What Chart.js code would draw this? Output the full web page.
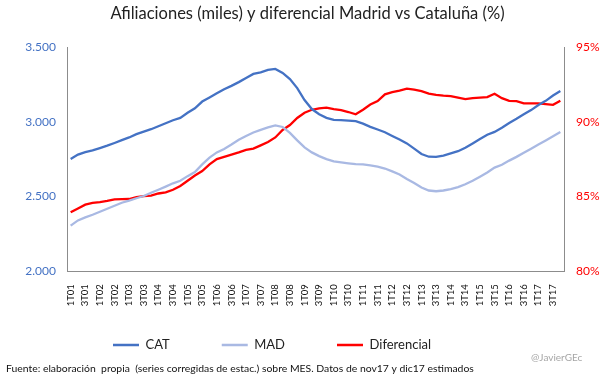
<!DOCTYPE html>
<html>
<head>
<meta charset="utf-8">
<script src="https://cdn.jsdelivr.net/npm/chart.js@4.4.0/dist/chart.umd.min.js"></script>
<style>
  html, body { margin: 0; padding: 0; background: #ffffff; }
  #wrap { width: 609px; height: 378px; }
</style>
</head>
<body>
<div id="wrap"><canvas id="c" width="609" height="378"></canvas></div>
<script>
const categories = [
  '1T01','2T01','3T01','4T01','1T02','2T02','3T02','4T02','1T03','2T03','3T03','4T03',
  '1T04','2T04','3T04','4T04','1T05','2T05','3T05','4T05','1T06','2T06','3T06','4T06',
  '1T07','2T07','3T07','4T07','1T08','2T08','3T08','4T08','1T09','2T09','3T09','4T09',
  '1T10','2T10','3T10','4T10','1T11','2T11','3T11','4T11','1T12','2T12','3T12','4T12',
  '1T13','2T13','3T13','4T13','1T14','2T14','3T14','4T14','1T15','2T15','3T15','4T15',
  '1T16','2T16','3T16','4T16','1T17','2T17','3T17','4T17'
];

const seriesNames = ['CAT', 'MAD', 'Diferencial'];

const catValues = [
  2751, 2780, 2797, 2808, 2824, 2840, 2858, 2877, 2895, 2917, 2934, 2950,
  2970, 2990, 3010, 3026, 3060, 3090, 3135, 3162, 3190, 3218, 3240, 3265,
  3292, 3320, 3330, 3347, 3353, 3327, 3285, 3225, 3145, 3085, 3050, 3026,
  3013, 3011, 3007, 3004, 2987, 2966, 2948, 2930, 2905, 2881, 2855, 2820,
  2784, 2766, 2765, 2774, 2788, 2803, 2826, 2855, 2884, 2913, 2932, 2960,
  2992, 3020, 3050, 3078, 3112, 3140, 3175, 3205
];

const madValues = [
  2305, 2340, 2360, 2378, 2398, 2418, 2438, 2458, 2472, 2488, 2503, 2525,
  2545, 2566, 2588, 2605, 2636, 2664, 2715, 2760, 2795, 2818, 2848, 2880,
  2905, 2928, 2946, 2962, 2975, 2965, 2925, 2875, 2828, 2795, 2770, 2750,
  2735, 2728, 2722, 2716, 2715, 2708, 2700, 2687, 2668, 2647, 2617, 2590,
  2560, 2540, 2535, 2540, 2550, 2563, 2582, 2605, 2632, 2660, 2693, 2712,
  2740, 2765, 2792, 2820, 2847, 2875, 2903, 2932
];

const difValues = [
  83.94, 84.20, 84.45, 84.57, 84.62, 84.70, 84.81, 84.82, 84.83, 84.95, 85.02, 85.06,
  85.20, 85.28, 85.45, 85.70, 86.05, 86.40, 86.70, 87.15, 87.50, 87.65, 87.80, 87.95,
  88.12, 88.20, 88.42, 88.65, 88.95, 89.45, 89.78, 90.25, 90.60, 90.80, 90.90, 90.95,
  90.85, 90.78, 90.65, 90.50, 90.80, 91.15, 91.38, 91.83, 91.98, 92.08, 92.22, 92.15,
  92.05, 91.88, 91.80, 91.75, 91.72, 91.62, 91.52, 91.58, 91.62, 91.65, 91.87, 91.58,
  91.40, 91.38, 91.23, 91.23, 91.23, 91.18, 91.13, 91.40
];

const leftTicks = [2000, 2500, 3000, 3500];
const rightTicks = [80, 85, 90, 95];

const titleText = 'Afiliaciones (miles) y diferencial Madrid vs Cataluña (%)';
const footerText = 'Fuente: elaboración  propia  (series corregidas de estac.) sobre MES. Datos de nov17 y dic17 estimados';
const watermarkText = '@JavierGEc';

const FONT = 'Lato, "Open Sans", "DejaVu Sans", sans-serif';
const LEGEND_PAD = 52;
const LEGEND_FS = 13;

const legendPlace = {
  id: 'legendPlace',
  afterLayout(chart) {
    const lg = chart.legend;
    if (!lg || !lg.lineWidths) return;
    const cur = (lg.left + LEGEND_PAD + lg.right - lg.lineWidths[0]) / 2;
    const shift = 113 - cur;
    lg.left += shift; lg.right += shift;
    const top = 345 - LEGEND_PAD - LEGEND_FS / 2;
    lg.top = top; lg.bottom = 362;
  }
};

const watermark = {
  id: 'watermark',
  afterDraw(chart) {
    const ctx = chart.ctx;
    ctx.save();
    ctx.font = '10px ' + FONT;
    ctx.fillStyle = '#A6A6A6';
    ctx.textAlign = 'left';
    ctx.textBaseline = 'middle';
    ctx.fillText(watermarkText, 531, 358);
    ctx.restore();
  }
};

new Chart(document.getElementById('c'), {
  type: 'line',
  data: {
    labels: categories,
    datasets: [
      { label: seriesNames[0], data: catValues, yAxisID: 'y', borderColor: '#4472C4', backgroundColor: '#4472C4', borderWidth: 2.3, pointRadius: 0, tension: 0 },
      { label: seriesNames[1], data: madValues, yAxisID: 'y', borderColor: '#A9B9E3', backgroundColor: '#A9B9E3', borderWidth: 2.3, pointRadius: 0, tension: 0 },
      { label: seriesNames[2], data: difValues, yAxisID: 'y1', borderColor: '#FF0000', backgroundColor: '#FF0000', borderWidth: 2.3, pointRadius: 0, tension: 0 }
    ]
  },
  options: {
    responsive: false,
    animation: false,
    devicePixelRatio: 1,
    layout: { padding: { left: 6, right: 0, top: 0, bottom: 0 } },
    plugins: {
      tooltip: { enabled: false },
      title: {
        display: true, text: titleText, color: '#222222',
        font: { family: FONT, size: 16.5, weight: 'normal', lineHeight: 1.2 },
        padding: { top: 4.1, bottom: 23.1 }
      },
      subtitle: {
        display: true, text: footerText, position: 'bottom', align: 'start', color: '#111111',
        font: { family: FONT, size: 10.4, weight: 'normal', lineHeight: 1.2 },
        padding: { top: 0, bottom: 2.8 }
      },
      legend: {
        display: true, position: 'bottom', maxHeight: 40,
        labels: {
          usePointStyle: true, pointStyle: 'line', pointStyleWidth: 26,
          padding: LEGEND_PAD, color: '#222222',
          font: { family: FONT, size: LEGEND_FS }
        }
      }
    },
    scales: {
      x: {
        type: 'category', offset: true,
        grid: { display: false, drawTicks: false },
        border: { display: true, color: '#8C8C8C', width: 1 },
        ticks: {
          autoSkip: false, minRotation: 90, maxRotation: 90, padding: 13,
          color: '#111111', font: { family: FONT, size: 9.5 },
          callback: function (v, i) { const l = categories[i]; return (l[0] === '1' || l[0] === '3') ? l : ''; }
        },
        afterFit(s) { s.height = 51.5; }
      },
      y: {
        type: 'linear', position: 'left', min: leftTicks[0], max: leftTicks[leftTicks.length - 1],
        afterBuildTicks(s) { s.ticks = leftTicks.map(v => ({ value: v })); },
        grid: { display: false, drawTicks: false },
        border: { display: true, color: '#8C8C8C', width: 1 },
        ticks: {
          padding: 11, color: '#4472C4', font: { family: FONT, size: 12 },
          callback: v => String(v).replace(/^(\d)(\d{3})$/, '$1.$2')
        },
        afterFit(s) { s.width = 61; }
      },
      y1: {
        type: 'linear', position: 'right', min: rightTicks[0], max: rightTicks[rightTicks.length - 1],
        afterBuildTicks(s) { s.ticks = rightTicks.map(v => ({ value: v })); },
        grid: { display: false, drawTicks: false },
        border: { display: true, color: '#8C8C8C', width: 1 },
        ticks: {
          padding: 12, color: '#FF0000', font: { family: FONT, size: 12 },
          callback: v => v + '%'
        },
        afterFit(s) { s.width = 45; }
      }
    }
  },
  plugins: [legendPlace, watermark]
});
</script>
</body>
</html>
